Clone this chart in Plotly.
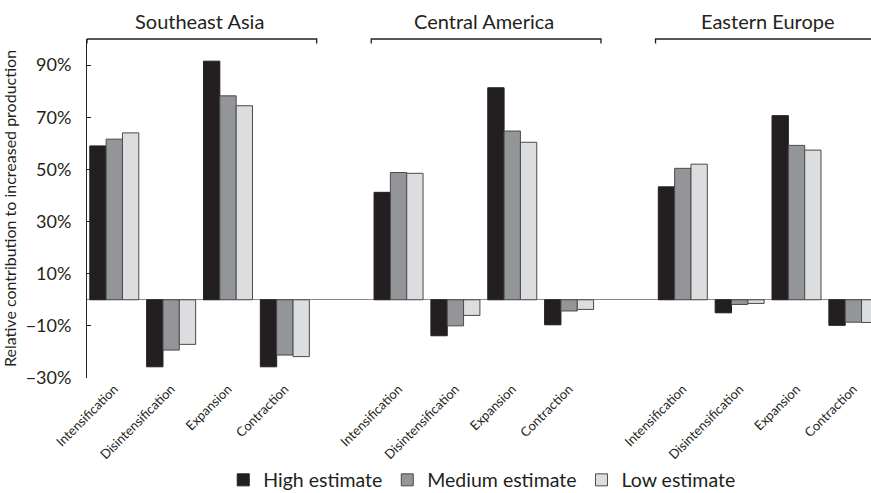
import plotly.graph_objects as go

regions = ["Southeast Asia", "Central America", "Eastern Europe"]
categories = ["Intensification", "Disintensification", "Expansion", "Contraction"]
series_names = ["High estimate", "Medium estimate", "Low estimate"]

high = [59.0, -25.7, 91.5, -25.7,
        41.2, -13.8, 81.3, -9.6,
        43.3, -5.0, 70.6, -9.8]
medium = [61.6, -19.3, 78.2, -21.2,
          48.8, -10.0, 64.7, -4.3,
          50.4, -1.8, 59.2, -8.6]
low = [64.0, -17.1, 74.4, -21.8,
       48.5, -6.0, 60.4, -3.7,
       52.0, -1.4, 57.4, -8.7]

y_ticks = [-30, -10, 10, 30, 50, 70, 90]
y_ticktext = ["\u221230%", "\u221210%", "10%", "30%", "50%", "70%", "90%"]

FONT = "Lato"
fills = ["#231f20", "#939598", "#dcddde"]
outlines = ["#231f20", "#4a4a4c", "#4a4a4c"]

# x positions: 4 categories per region, one empty slot between regions
xpos = []
ticktext = []
for r_i, _ in enumerate(regions):
    for c_i, c in enumerate(categories):
        xpos.append(r_i * 5 + c_i)
        ticktext.append(c)

fig = go.Figure()
for name, vals, fc, lc in zip(series_names, [high, medium, low], fills, outlines):
    fig.add_trace(go.Bar(
        x=xpos, y=vals, name=name,
        marker=dict(color=fc, line=dict(color=lc, width=1)),
    ))

shapes = []
annotations = []
tick_h = 0.013
for r_i, region in enumerate(regions):
    x0 = r_i * 5 - 0.48
    x1 = r_i * 5 + 3 + 0.56
    shapes.append(dict(
        type="path", xref="x", yref="paper",
        path=f"M {x0},{1 - tick_h} L {x0},1 L {x1},1 L {x1},{1 - tick_h}",
        line=dict(color="#231f20", width=1.3),
    ))
    annotations.append(dict(
        x=r_i * 5 + 1.5, y=1, xref="x", yref="paper",
        yanchor="bottom", yshift=4, showarrow=False,
        text=region, font=dict(family=FONT, size=20, color="#231f20"),
    ))

fig.update_layout(
    width=871, height=493,
    margin=dict(l=87, r=0, t=39, b=115, autoexpand=False),
    paper_bgcolor="white", plot_bgcolor="white",
    barmode="group", bargap=0.138, bargroupgap=0,
    font=dict(family=FONT, color="#231f20"),
    shapes=shapes, annotations=annotations,
    legend=dict(orientation="h", x=0.5035, xanchor="center",
                yref="container", y=0.026, yanchor="middle",
                font=dict(family=FONT, size=19.5, color="#231f20"),
                traceorder="normal", itemwidth=30),
    showlegend=True,
)
fig.update_xaxes(
    range=[-0.48, 13.31], tickmode="array", tickvals=xpos, ticktext=ticktext,
    tickangle=-45, tickfont=dict(family=FONT, size=13, color="#231f20"),
    showgrid=False, zeroline=False, showline=False, ticks="",
    automargin=False,
)
fig.update_yaxes(
    range=[-30, 100], tickmode="array", tickvals=y_ticks, ticktext=y_ticktext,
    tickfont=dict(family=FONT, size=18, color="#231f20"),
    showgrid=False, showline=True, linecolor="#231f20", linewidth=1,
    ticks="inside", ticklen=4, tickcolor="#231f20",
    zeroline=True, zerolinecolor="#8a8a8a", zerolinewidth=1.3,
    ticklabelstandoff=11, automargin=False,
    title=dict(text="Relative contribution to increased production",
               font=dict(family=FONT, size=16, color="#231f20"), standoff=10),
)

fig.write_html(
    "out.html",
    config={"displayModeBar": False},
    post_script=(
        "document.body.style.margin='0';"
        "document.body.style.overflow='hidden';"
    ),
)
